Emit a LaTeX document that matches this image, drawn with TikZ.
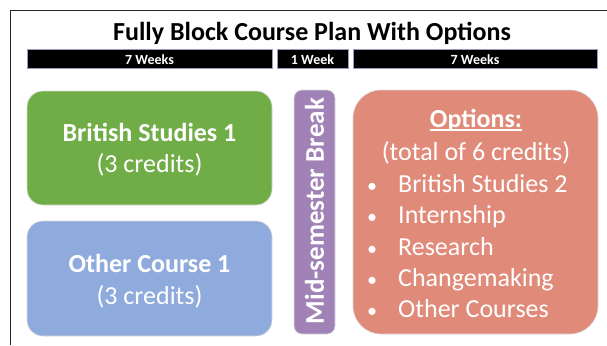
\documentclass[tikz,border=0pt]{standalone}
\usepackage{fontspec}
\setmainfont{Carlito}
\usetikzlibrary{calc}
\definecolor{cgreen}{RGB}{112,173,71}
\definecolor{cblue}{RGB}{143,170,220}
\definecolor{cpurple}{RGB}{160,130,182}
\definecolor{csalmon}{RGB}{224,138,122}
\begin{document}
\begin{tikzpicture}[x=1pt,y=-1pt,
  bar/.style={fill=black,draw=black!60!blue!40,line width=0.6pt},
  bartext/.style={text=white,anchor=base,font=\bfseries\fontsize{14}{16}\selectfont},
  box/.style={rounded corners=16pt,draw=white!70!gray,line width=0.6pt},
  wt/.style={text=white,anchor=base,font=\fontsize{26}{30}\selectfont},
  wb/.style={text=white,anchor=base,font=\bfseries\fontsize{26}{30}\selectfont}]
\useasboundingbox (0,0) rectangle (607,345);
\fill[white] (0,0) rectangle (607,345);
\draw[black!85,line width=1.2pt] (10.5,345) -- (10.5,10.5) -- (607,10.5);
\node[anchor=base] (title) at (312,41) {\bfseries\fontsize{26}{30}\selectfont Fully Block Course Plan With Options};
\draw[bar] (27,49.5) rectangle (272,68.5);
\node[bartext] (w1) at (149.5,64) {7 Weeks};
\draw[bar] (277,49.5) rectangle (348,68.5);
\node[bartext] (w2) at (312.5,64) {1 Week};
\draw[bar] (353,49.5) rectangle (597,68.5);
\node[bartext] (w3) at (475,64) {7 Weeks};
% boxes
\draw[box,fill=cgreen] (27,91) rectangle (272,205);
\node[wb] (bs1) at (149.5,141) {British Studies 1};
\node[wt] (bs1c) at (149.5,172) {(3 credits)};
\draw[box,fill=cblue] (27,221) rectangle (272,336);
\node[wb] (oc1) at (149.5,272) {Other Course 1};
\node[wt] (oc1c) at (149.5,304) {(3 credits)};
\draw[box,rounded corners=8pt,fill=cpurple] (294,90) rectangle (335,334);
\node[text=white,rotate=90,font=\bfseries\fontsize{27}{30}\selectfont] (brk) at (314.5,211) {Mid-semester Break};
\draw[box,rounded corners=28pt,fill=csalmon] (353,90) rectangle (598,334);
\node[wb,inner sep=0pt] (opt) at (476,127) {Options:};
\draw[white,line width=1.2pt] ($(opt.base west)+(0,3)$) -- ($(opt.base east)+(0,3)$);
\node[wt] (tot) at (476,160) {(total of 6 credits)};
\foreach \t/\yy [count=\i] in {British Studies 2/192,Internship/223,Research/255,Changemaking/286,Other Courses/317}{
  \node[text=white,anchor=base,font=\fontsize{20}{24}\selectfont] (b\i) at (372,\yy) {•};
  \node[wt,anchor=base west,inner sep=0pt] (it\i) at (398,\yy) {\t};
}
\end{tikzpicture}
\end{document}
